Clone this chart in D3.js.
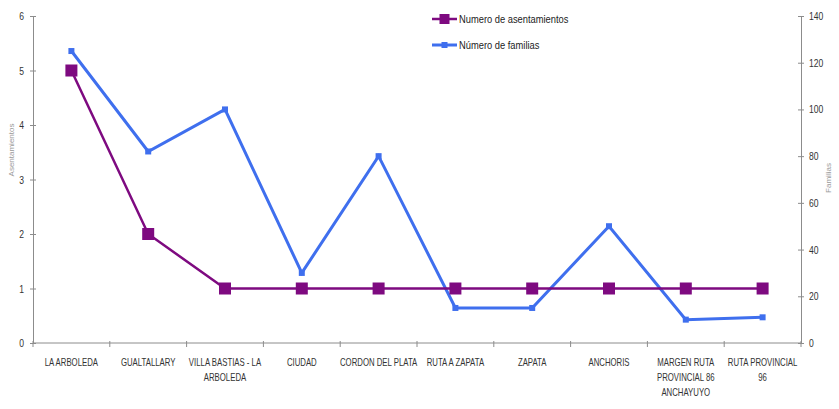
<!DOCTYPE html>
<html><head><meta charset="utf-8">
<script src="https://cdn.jsdelivr.net/npm/d3@7"></script>
<style>body{margin:0;background:#fff;} text{font-family:"Liberation Sans",Arial,sans-serif;}</style>
</head><body>
<svg id="c" width="839" height="409"></svg>
<script>
const categories = ["LA ARBOLEDA","GUALTALLARY","VILLA BASTIAS - LA\nARBOLEDA","CIUDAD","CORDON DEL PLATA","RUTA A ZAPATA","ZAPATA","ANCHORIS","MARGEN RUTA\nPROVINCIAL 86\nANCHAYUYO","RUTA PROVINCIAL\n96"];
const asentamientos = [5,2,1,1,1,1,1,1,1,1];
const familias = [125,82,100,30,80,15,15,50,10,11];
const leftTicks = [0,1,2,3,4,5,6];
const rightTicks = [0,20,40,60,80,100,120,140];
const seriesNames = ["Numero de asentamientos","Número de familias"];

const svg = d3.select("#c");
const L = 33, R = 801, T = 16, B = 343;
const x = d3.scaleBand().domain(d3.range(categories.length)).range([L,R]);
const yL = d3.scaleLinear().domain([0,6]).range([B,T]);
const yR = d3.scaleLinear().domain([0,140]).range([B,T]);
const axisCol = "#8c8c8c";
const purple = "#7e0a80", blue = "#3f6fee";
const SX = 0.78;

// left axis
const gl = svg.append("g").attr("transform",`translate(${L},0)`)
  .call(d3.axisLeft(yL).tickValues(leftTicks).tickFormat(d3.format("d")).tickSize(3).tickPadding(7));
gl.selectAll(".tick line").attr("x2",3).attr("x1",-3);
// right axis
const gr = svg.append("g").attr("transform",`translate(${R},0)`)
  .call(d3.axisRight(yR).tickValues(rightTicks).tickFormat(d3.format("d")).tickSize(3).tickPadding(5));
gr.selectAll(".tick line").attr("x1",-3).attr("x2",3);
// bottom axis
const gb = svg.append("g").attr("transform",`translate(0,${B})`);
gb.append("line").attr("x1",L).attr("x2",R).attr("stroke",axisCol);
d3.range(categories.length+1).forEach(i=>{
  const xx = L + i*x.bandwidth();
  gb.append("line").attr("x1",xx).attr("x2",xx).attr("y1",-2).attr("y2",4).attr("stroke",axisCol);
});
categories.forEach((c,i)=>{
  const t = gb.append("text").attr("text-anchor","middle").attr("font-size",10).attr("fill","#333")
    .attr("transform",`translate(${x(i)+x.bandwidth()/2},0) scale(${SX},1)`);
  c.split("\n").forEach((ln,j)=>t.append("tspan").attr("x",0).attr("y",23+j*15).text(ln));
});
[gl,gr].forEach(g=>{
  g.select(".domain").attr("stroke",axisCol);
  g.selectAll(".tick line").attr("stroke",axisCol);
  g.selectAll(".tick text").attr("font-size",11).attr("fill","#333");
});
gl.selectAll(".tick text").attr("transform",`scale(${SX},1)`).attr("x",-9/SX);
gr.selectAll(".tick text").attr("transform",`scale(${SX},1)`).attr("x",8/SX);
// axis titles
svg.append("text").attr("transform","translate(14,150) rotate(-90)").attr("text-anchor","middle")
  .attr("font-size",8).attr("fill","#999").text("Asentamientos");
svg.append("text").attr("transform","translate(831,178) rotate(-90)").attr("text-anchor","middle")
  .attr("font-size",8).attr("fill","#999").text("Familias");

const cx = i => x(i)+x.bandwidth()/2;
// familias line
svg.append("path").datum(familias).attr("fill","none").attr("stroke",blue).attr("stroke-width",3)
  .attr("d",d3.line().x((d,i)=>cx(i)).y(d=>yR(d)));
svg.selectAll(".fm").data(familias).join("rect").attr("fill",blue)
  .attr("x",(d,i)=>cx(i)-3).attr("y",d=>yR(d)-3).attr("width",6).attr("height",6);
// asentamientos line
svg.append("path").datum(asentamientos).attr("fill","none").attr("stroke",purple).attr("stroke-width",2.5)
  .attr("d",d3.line().x((d,i)=>cx(i)).y(d=>yL(d)));
svg.selectAll(".am").data(asentamientos).join("rect").attr("fill",purple)
  .attr("x",(d,i)=>cx(i)-6).attr("y",d=>yL(d)-6).attr("width",12).attr("height",12);

// legend
const lg = svg.append("g");
[[purple,2.5,10],[blue,3,6]].forEach((s,k)=>{
  const yy = 19 + k*26;
  lg.append("line").attr("x1",432).attr("x2",457).attr("y1",yy).attr("y2",yy).attr("stroke",s[0]).attr("stroke-width",s[1]);
  lg.append("rect").attr("x",444.5-s[2]/2).attr("y",yy-s[2]/2).attr("width",s[2]).attr("height",s[2]).attr("fill",s[0]);
  lg.append("text").attr("transform",`translate(459,${yy+4}) scale(0.85,1)`).attr("font-size",11).attr("fill","#222").text(seriesNames[k]);
});
</script>
</body></html>
